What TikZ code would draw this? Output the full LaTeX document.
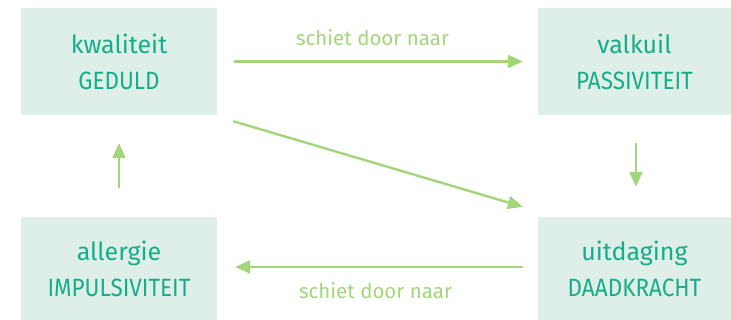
\documentclass[tikz,border=0pt]{standalone}
\usepackage{graphicx}
\usepackage{fontspec}
\setmainfont{Fira Sans}
\usetikzlibrary{arrows.meta,calc}
\definecolor{boxfill}{HTML}{DDEFE8}
\definecolor{boxtext}{HTML}{16AD88}
\definecolor{arrowgreen}{HTML}{A3D67A}
% narrow the upper-case second line of each box
\newcommand\traitcaps[1]{\scalebox{0.9}[1]{#1}}
\tikzset{
  trait/.style={rectangle, fill=boxfill, text=boxtext, align=center, inner sep=0pt,
    font=\fontsize{25}{36}\selectfont},
  link/.style={draw=arrowgreen, line width=2.4pt, -{Triangle[length=15pt,width=13pt]}},
  linklabel/.style={text=arrowgreen, font=\fontsize{20.5}{22}\selectfont}
}
\begin{document}
\begin{tikzpicture}[x=1pt,y=-1pt]
\useasboundingbox (0,0) rectangle (731,320);
\node[trait, minimum width=196pt, minimum height=107pt] (tl) at (119,61.5) {kwaliteit\\\traitcaps{GEDULD}};
\node[trait, minimum width=193pt, minimum height=107pt] (tr) at (634.5,61.5) {valkuil\\\traitcaps{PASSIVITEIT}};
\node[trait, minimum width=196pt, minimum height=103pt] (bl) at (119,268.5) {allergie\\\traitcaps{IMPULSIVITEIT}};
\node[trait, minimum width=193pt, minimum height=103pt] (br) at (634.5,268.5) {uitdaging\\\traitcaps{DAADKRACHT}};
% horizontal links with labels
\draw[link, shorten <=17pt, shorten >=15pt] (tl.east) -- (tr.west)
  node[linklabel, midway, xshift=-5pt, yshift=24pt] (lt) {schiet door naar};
\draw[link, shorten <=15pt, shorten >=18pt] ([yshift=1.5pt]br.west) -- ([yshift=1.5pt]bl.east)
  node[linklabel, midway, xshift=-2pt, yshift=-24pt] (lb) {schiet door naar};
% diagonal link
\draw[link] ($(tl.south east)+(16,6)$) -- ($(br.north west)+(-15,-10)$);
% vertical links
\draw[link, shorten <=29pt, shorten >=28pt] (bl.north) -- (tl.south);
\draw[link, shorten <=28pt, shorten >=30pt] ([xshift=1.5pt]tr.south) -- ([xshift=1.5pt]br.north);
\end{tikzpicture}
\end{document}
